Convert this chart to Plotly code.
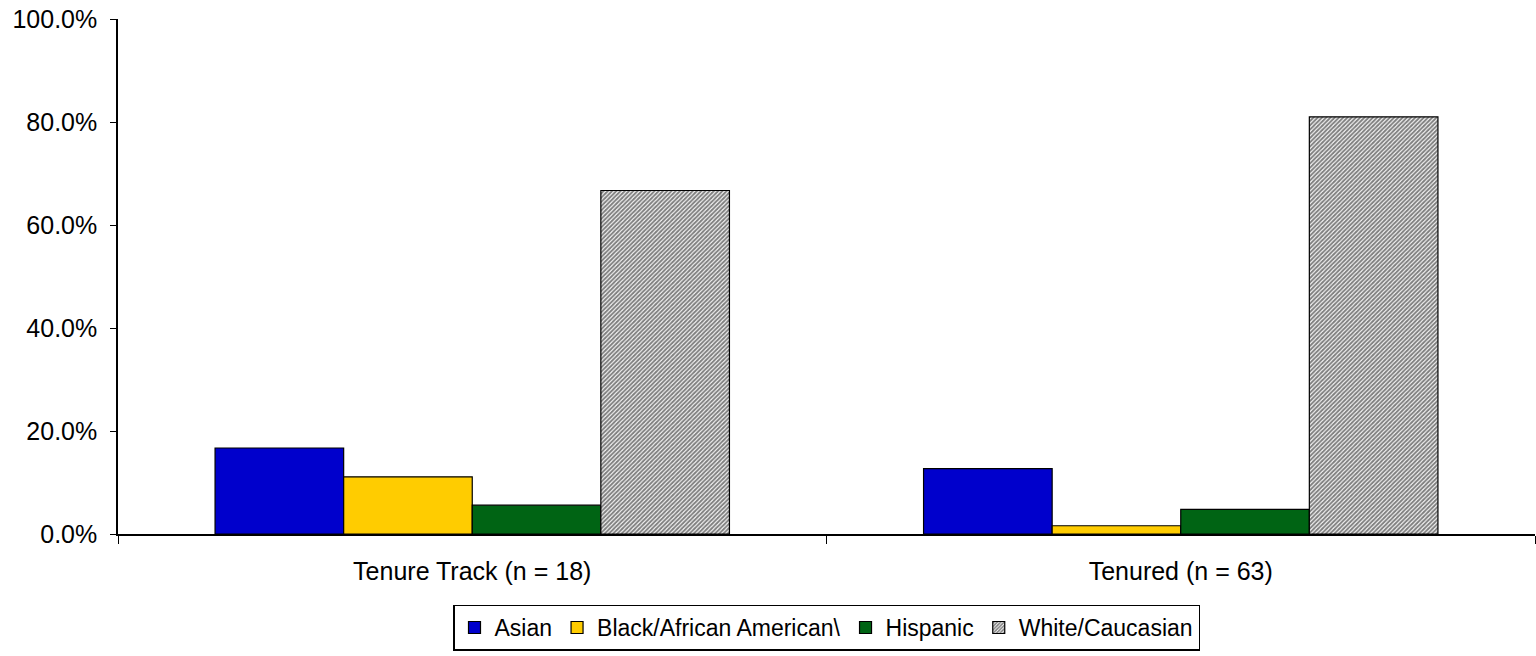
import plotly.graph_objects as go

CATEGORIES = ["Tenure Track (n = 18)", "Tenured (n = 63)"]
GROUPS = ["Asian", "Black/African American\\", "Hispanic", "White/Caucasian"]
ASIAN = [0.167, 0.127]
BLACK = [0.111, 0.016]
HISPANIC = [0.056, 0.048]
WHITE = [0.667, 0.810]
Y_TICKS = [0, 0.2, 0.4, 0.6, 0.8, 1.0]

COLORS = ["#0000CC", "#FFCC00", "#006414", "#FFFFFF"]
FONT = "Liberation Sans, Arial, sans-serif"

fig = go.Figure()
for name, vals, col in zip(GROUPS, [ASIAN, BLACK, HISPANIC, WHITE], COLORS):
    marker = dict(color=col, line=dict(color="black", width=1.2))
    if name == "White/Caucasian":
        marker["pattern"] = dict(shape="/", fgcolor="black", bgcolor="white",
                                 size=3, solidity=0.65)
    fig.add_bar(name=name, x=CATEGORIES, y=vals, marker=marker)

fig.update_layout(
    width=1536, height=656,
    margin=dict(l=118, r=1, t=19, b=122, autoexpand=False),
    barmode="group", bargap=0.274, bargroupgap=0,
    plot_bgcolor="white", paper_bgcolor="white",
    font=dict(family=FONT, size=25, color="black"),
    legend=dict(orientation="h", x=0.5, xanchor="center", y=-0.137, yanchor="top",
                bordercolor="black", borderwidth=1.5, font=dict(size=23),
                itemwidth=30, tracegroupgap=0),
)
fig.update_xaxes(showline=True, linecolor="black", linewidth=1.5,
                 ticks="outside", tickson="boundaries", ticklen=8, tickcolor="black",
                 ticklabelstandoff=14, showgrid=False, automargin=False)
fig.update_yaxes(range=[0, 1], tickvals=Y_TICKS, tickformat=".1%",
                 showline=True, linecolor="black", linewidth=1.5,
                 ticks="outside", ticklen=6, tickcolor="black", ticklabelstandoff=8,
                 ticklabeloverflow="allow",
                 showgrid=False, zeroline=False, automargin=False)

# drop the page's default body margin so the figure fills the window
fig.write_html("out.html", config={"displayModeBar": False},
               post_script="document.body.style.margin = '0';")
